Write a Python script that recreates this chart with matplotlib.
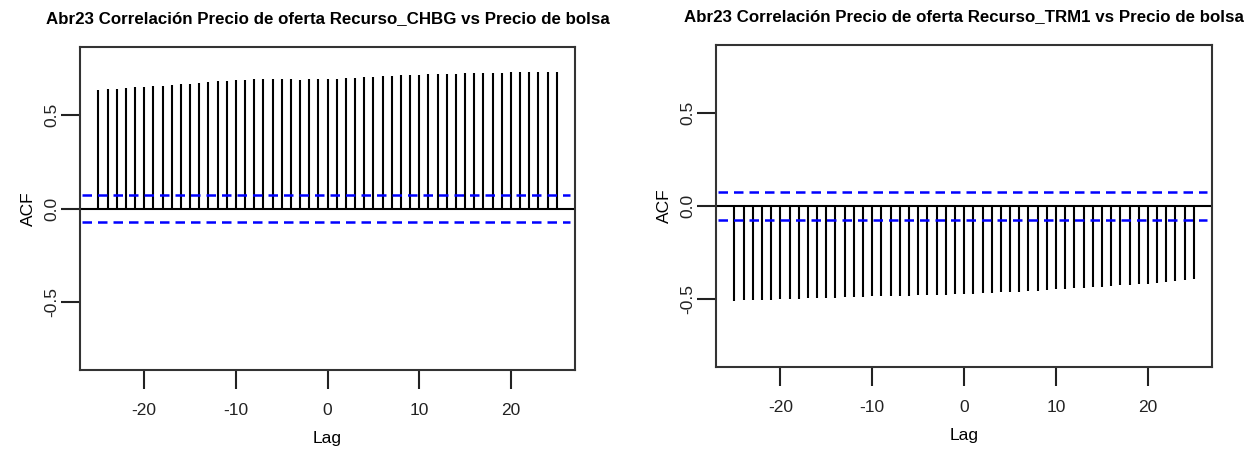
import numpy as np
import matplotlib.pyplot as plt

plt.rcParams['font.family'] = ['Liberation Sans', 'DejaVu Sans']
plt.rcParams['axes.unicode_minus'] = False

# Lags -25..25 of the cross-correlation
lags = np.arange(-25, 26)

acf_chbg = [0.637, 0.640, 0.641, 0.643, 0.648, 0.650, 0.655, 0.658, 0.660, 0.665,
            0.668, 0.672, 0.677, 0.682, 0.684, 0.687, 0.689, 0.692, 0.692, 0.691,
            0.691, 0.691, 0.690, 0.691, 0.691, 0.691, 0.692, 0.696, 0.699, 0.703,
            0.706, 0.710, 0.710, 0.713, 0.717, 0.717, 0.719, 0.720, 0.720, 0.722,
            0.724, 0.724, 0.726, 0.726, 0.726, 0.728, 0.728, 0.729, 0.729, 0.730,
            0.730]

acf_trm1 = [-0.507, -0.505, -0.505, -0.503, -0.503, -0.501, -0.499, -0.497, -0.495, -0.494,
            -0.492, -0.491, -0.490, -0.488, -0.486, -0.485, -0.484, -0.482, -0.481, -0.480,
            -0.478, -0.477, -0.476, -0.475, -0.474, -0.472, -0.470, -0.468, -0.466, -0.463,
            -0.461, -0.459, -0.456, -0.453, -0.450, -0.447, -0.444, -0.441, -0.438, -0.435,
            -0.432, -0.429, -0.426, -0.423, -0.420, -0.416, -0.412, -0.406, -0.401, -0.396,
            -0.390]

conf_limit = 0.074

titles = ["Abr23 Correlación Precio de oferta Recurso_CHBG vs Precio de bolsa",
          "Abr23 Correlación Precio de oferta Recurso_TRM1 vs Precio de bolsa"]

xticks = [-20, -10, 0, 10, 20]
yticks = [-0.5, 0.0, 0.5]
yticklabels = ["-0.5", "0.0", "0.5"]


def plot_ccf(ax, values, title):
    ax.vlines(lags, 0, values, colors='black', linewidth=1.5)
    ax.axhline(0, color='black', linewidth=1.5)
    for c in (conf_limit, -conf_limit):
        ax.axhline(c, color='#0000ff', linewidth=1.8, linestyle=(0, (3.8, 2.4)),
                   xmin=0.005, xmax=0.99)

    ax.set_xlim(-27, 27)
    ax.set_ylim(-0.864, 0.864)
    ax.set_xticks(xticks)
    ax.set_yticks(yticks)
    ax.set_yticklabels(yticklabels, rotation=90, va='center')

    ax.tick_params(axis='both', length=14, width=1.5, labelsize=12.5, colors='#222222')
    ax.tick_params(axis='x', pad=10)
    ax.tick_params(axis='y', pad=1)
    for spine in ax.spines.values():
        spine.set_linewidth(1.5)
        spine.set_color('#333333')

    ax.set_xlabel('Lag', fontsize=12.5, labelpad=9)
    ax.set_ylabel('ACF', fontsize=12.5, labelpad=6)
    ax.set_title(title, fontsize=12.2, fontweight='bold', pad=17)


fig = plt.figure(figsize=(12.5, 4.51), dpi=100)
ax1 = fig.add_axes([0.064, 0.1796, 0.396, 0.716])
ax2 = fig.add_axes([0.5728, 0.186, 0.397, 0.714])

plot_ccf(ax1, acf_chbg, titles[0])
plot_ccf(ax2, acf_trm1, titles[1])

plt.savefig('out.png', dpi=100)
plt.close()
